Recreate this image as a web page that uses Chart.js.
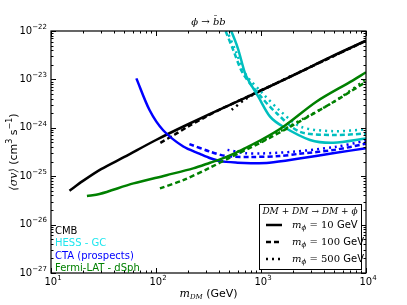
<!DOCTYPE html>
<html>
<head>
<meta charset="utf-8">
<script src="https://cdn.jsdelivr.net/npm/chart.js@4"></script>
<style>
  body { margin: 0; background: #fff; }
  #wrap { width: 407px; height: 305px; }
</style>
</head>
<body>
<div id="wrap"><canvas id="chart" width="407" height="305"></canvas></div>
<script>
// values: DM mass (GeV) and <sigma v> (cm^3 s^-1)

// CMB
const cmbMass10 = [15, 20, 30, 50, 100, 200, 500, 1000, 2000, 5000, 10000];
const cmbSv10 = [5.0e-26, 7.9e-26, 1.4e-25, 2.5e-25, 5.6e-25, 1.17e-24, 2.95e-24, 5.9e-24, 1.2e-23, 3.16e-23, 6.3e-23];
const cmbMass100 = [110, 150, 200, 300, 400, 1000, 10000];
const cmbSv100 = [4.9e-25, 7.2e-25, 1.05e-24, 1.7e-24, 2.35e-24, 5.9e-24, 6.3e-23];
const cmbMass500 = [525, 700, 1000, 10000];
const cmbSv500 = [2.35e-24, 3.8e-24, 5.9e-24, 6.3e-23];

// HESS - GC
const hessMass10 = [480, 520, 600, 700, 760, 942, 1220, 1630, 2930, 4890, 10000];
const hessSv10 = [1.4e-22, 1.0e-22, 4.5e-23, 1.4e-23, 9.5e-24, 4.4e-24, 1.7e-24, 1.05e-24, 5.6e-25, 4.9e-25, 6.0e-25];
const hessMass100 = [430, 460, 545, 676, 1000, 1410, 2340, 4890, 10000];
const hessSv100 = [1.4e-22, 1.0e-22, 4.0e-23, 1.3e-23, 4.4e-24, 2.0e-24, 8.3e-25, 7.1e-25, 7.6e-25];
const hessMass500 = [445, 475, 570, 710, 1050, 1500, 2400, 4900, 10000];
const hessSv500 = [1.4e-22, 1.0e-22, 4.0e-23, 1.3e-23, 5.0e-24, 2.3e-24, 1.05e-24, 8.5e-25, 9.3e-25];

// CTA (prospects)
const ctaMass10 = [65, 87, 117, 182, 262, 330, 407, 600, 800, 1200, 2400, 5000, 10000];
const ctaSv10 = [1.05e-23, 2.3e-24, 8.9e-25, 4.1e-25, 2.9e-25, 2.35e-25, 2.05e-25, 1.9e-25, 1.86e-25, 1.9e-25, 2.35e-25, 3.0e-25, 3.8e-25];
const ctaMass100 = [208, 330, 470, 800, 1500, 2300, 5000, 10000];
const ctaSv100 = [4.6e-25, 3.2e-25, 2.6e-25, 2.5e-25, 2.6e-25, 2.9e-25, 3.5e-25, 4.7e-25];
const ctaMass500 = [480, 700, 1000, 2000, 5000, 10000];
const ctaSv500 = [3.5e-25, 3.0e-25, 2.95e-25, 3.2e-25, 4.0e-25, 5.4e-25];

// Fermi-LAT - dSph
const fermiMass10 = [22, 29, 61, 126, 226, 327, 470, 1000, 1630, 3390, 7080, 10000];
const fermiSv10 = [3.9e-26, 4.3e-26, 7.1e-26, 1.05e-25, 1.45e-25, 1.9e-25, 2.5e-25, 5.6e-25, 1.05e-24, 3.5e-24, 8.9e-24, 1.4e-23];
const fermiMass100 = [109, 182, 327, 500, 1000, 2000, 5000, 10000];
const fermiSv100 = [5.6e-26, 8.3e-26, 1.5e-25, 2.4e-25, 5.0e-25, 1.12e-24, 3.5e-24, 8.9e-24];
const fermiMass500 = [600, 1000, 2000, 5000, 10000];
const fermiSv500 = [3.2e-25, 5.2e-25, 1.17e-24, 3.5e-24, 1.0e-23];

// axes
const xExponents = ['1', '2', '3', '4'];
const yExponents = ['−27', '−26', '−25', '−24', '−23', '−22'];
const groupNames = ['CMB', 'HESS - GC', 'CTA (prospects)', 'Fermi-LAT - dSph'];
const mphiLabels = ['10', '100', '500'];

const colCmb = '#000000';
const colHess = '#00bfbf';
const colCta = '#0000ff';
const colFermi = '#008000';
const dashes = [[], [5, 3], [2, 4]];

const SERIF = '"DejaVu Serif", serif';
const SANS = '"DejaVu Sans", sans-serif';

function pts(mass, sv) {
  return mass.map((m, i) => ({ x: m, y: sv[i] }));
}

function line(mass, sv, color, style) {
  return {
    data: pts(mass, sv),
    borderColor: color,
    borderWidth: 2.5,
    borderDash: dashes[style],
    pointRadius: 0,
    tension: 0.3,
    fill: false
  };
}

// text made of pieces with different fonts / offsets
function drawRuns(ctx, runs, x, y, align) {
  let total = 0;
  runs.forEach(r => { ctx.font = r.f; r.w = ctx.measureText(r.t).width; total += r.w; });
  let cx = align === 'left' ? x : align === 'right' ? x - total : x - total / 2;
  ctx.textAlign = 'left';
  ctx.textBaseline = 'middle';
  runs.forEach(r => {
    ctx.font = r.f;
    ctx.fillText(r.t, cx, y + (r.dy || 0));
    cx += r.w;
  });
}

function pow10(exp) {
  return [
    { t: '10', f: '10px ' + SANS },
    { t: exp, f: '7px ' + SANS, dy: -4 }
  ];
}

const overlay = {
  id: 'overlay',
  afterDraw(chart) {
    const ctx = chart.ctx;
    const a = chart.chartArea;
    const xs = chart.scales.x, ys = chart.scales.y;
    ctx.save();
    ctx.strokeStyle = '#000';
    ctx.lineWidth = 1;
    const seg = (x1, y1, x2, y2) => { ctx.beginPath(); ctx.moveTo(x1, y1); ctx.lineTo(x2, y2); ctx.stroke(); };

    // inward ticks, x
    for (let d = 1; d <= 4; d++) {
      for (let k = 1; k <= (d === 4 ? 1 : 9); k++) {
        const px = Math.round(xs.getPixelForValue(k * Math.pow(10, d))) + 0.5;
        const len = k === 1 ? 5 : 2.5;
        seg(px, a.bottom, px, a.bottom - len);
        seg(px, a.top, px, a.top + len);
      }
    }
    // inward ticks, y
    for (let d = -27; d <= -22; d++) {
      for (let k = 1; k <= (d === -22 ? 1 : 9); k++) {
        const py = Math.round(ys.getPixelForValue(k * Math.pow(10, d))) + 0.5;
        const len = k === 1 ? 5 : 2.5;
        seg(a.left, py, a.left + len, py);
        seg(a.right, py, a.right - len, py);
      }
    }
    // frame
    ctx.lineWidth = 1.2;
    ctx.strokeRect(a.left, a.top, a.right - a.left, a.bottom - a.top);

    ctx.fillStyle = '#000';
    // tick labels
    xExponents.forEach((e, i) => {
      drawRuns(ctx, pow10(e), xs.getPixelForValue(Math.pow(10, i + 1)) + 2, a.bottom + 9, 'center');
    });
    yExponents.forEach((e, i) => {
      drawRuns(ctx, pow10(e), a.left - 4, ys.getPixelForValue(Math.pow(10, -27 + i)), 'right');
    });

    // title
    drawRuns(ctx, [{ t: 'ϕ → b̄b', f: 'italic 10px ' + SERIF }], (a.left + a.right) / 2, 22, 'center');

    // x label
    drawRuns(ctx, [
      { t: 'm', f: 'italic 11px ' + SERIF },
      { t: 'DM', f: 'italic 7px ' + SERIF, dy: 3 },
      { t: ' (GeV)', f: '11px ' + SANS }
    ], (a.left + a.right) / 2, 294, 'center');

    // y label
    ctx.save();
    ctx.translate(14, (a.top + a.bottom) / 2);
    ctx.rotate(-Math.PI / 2);
    drawRuns(ctx, [
      { t: '⟨σv⟩', f: 'italic 11px ' + SERIF },
      { t: ' (cm', f: '11px ' + SANS },
      { t: '3', f: '8px ' + SANS, dy: -4 },
      { t: ' s', f: '11px ' + SANS },
      { t: '−1', f: '8px ' + SANS, dy: -4 },
      { t: ')', f: '11px ' + SANS }
    ], 0, 0, 'center');
    ctx.restore();

    // experiment names
    const nameCols = [colCmb, '#1ee6ee', colCta, colFermi];
    groupNames.forEach((n, i) => {
      ctx.fillStyle = nameCols[i];
      drawRuns(ctx, [{ t: n, f: '10px ' + SANS }], a.left + 4, 231 + i * 12.6, 'left');
    });

    // m_phi legend box
    const bx = 259, by = 204, bw = 102, bh = 65;
    ctx.fillStyle = '#fff';
    ctx.fillRect(bx, by, bw, bh);
    ctx.lineWidth = 1;
    ctx.strokeStyle = '#000';
    ctx.strokeRect(bx + 0.5, by + 0.5, bw, bh);
    ctx.fillStyle = '#000';
    drawRuns(ctx, [{ t: 'DM + DM → DM + ϕ', f: 'italic 9px ' + SERIF }], bx + bw / 2, by + 8, 'center');
    mphiLabels.forEach((m, i) => {
      const yy = by + 21 + i * 17;
      ctx.lineWidth = 2.5;
      ctx.setLineDash(dashes[i]);
      seg(bx + 7, yy, bx + 23, yy);
      ctx.setLineDash([]);
      drawRuns(ctx, [
        { t: 'm', f: 'italic 10px ' + SERIF },
        { t: 'ϕ', f: 'italic 7px ' + SERIF, dy: 3 },
        { t: ' = ' + m, f: '10px ' + SERIF },
        { t: ' GeV', f: '10px ' + SANS }
      ], bx + 33, yy, 'left');
    });
    ctx.restore();
  }
};

new Chart(document.getElementById('chart'), {
  type: 'line',
  data: {
    datasets: [
      line(fermiMass10, fermiSv10, colFermi, 0),
      line(fermiMass100, fermiSv100, colFermi, 1),
      line(fermiMass500, fermiSv500, colFermi, 2),
      line(ctaMass10, ctaSv10, colCta, 0),
      line(ctaMass100, ctaSv100, colCta, 1),
      line(ctaMass500, ctaSv500, colCta, 2),
      line(hessMass10, hessSv10, colHess, 0),
      line(hessMass100, hessSv100, colHess, 1),
      line(hessMass500, hessSv500, colHess, 2),
      line(cmbMass10, cmbSv10, colCmb, 0),
      line(cmbMass100, cmbSv100, colCmb, 1),
      line(cmbMass500, cmbSv500, colCmb, 2)
    ]
  },
  options: {
    responsive: false,
    animation: false,
    layout: { padding: { left: 51, right: 41, top: 31, bottom: 32 } },
    plugins: { legend: { display: false }, tooltip: { enabled: false } },
    scales: {
      x: { type: 'logarithmic', min: 10, max: 10000, display: false },
      y: { type: 'logarithmic', min: 1e-27, max: 1e-22, display: false }
    }
  },
  plugins: [overlay]
});
</script>
</body>
</html>
